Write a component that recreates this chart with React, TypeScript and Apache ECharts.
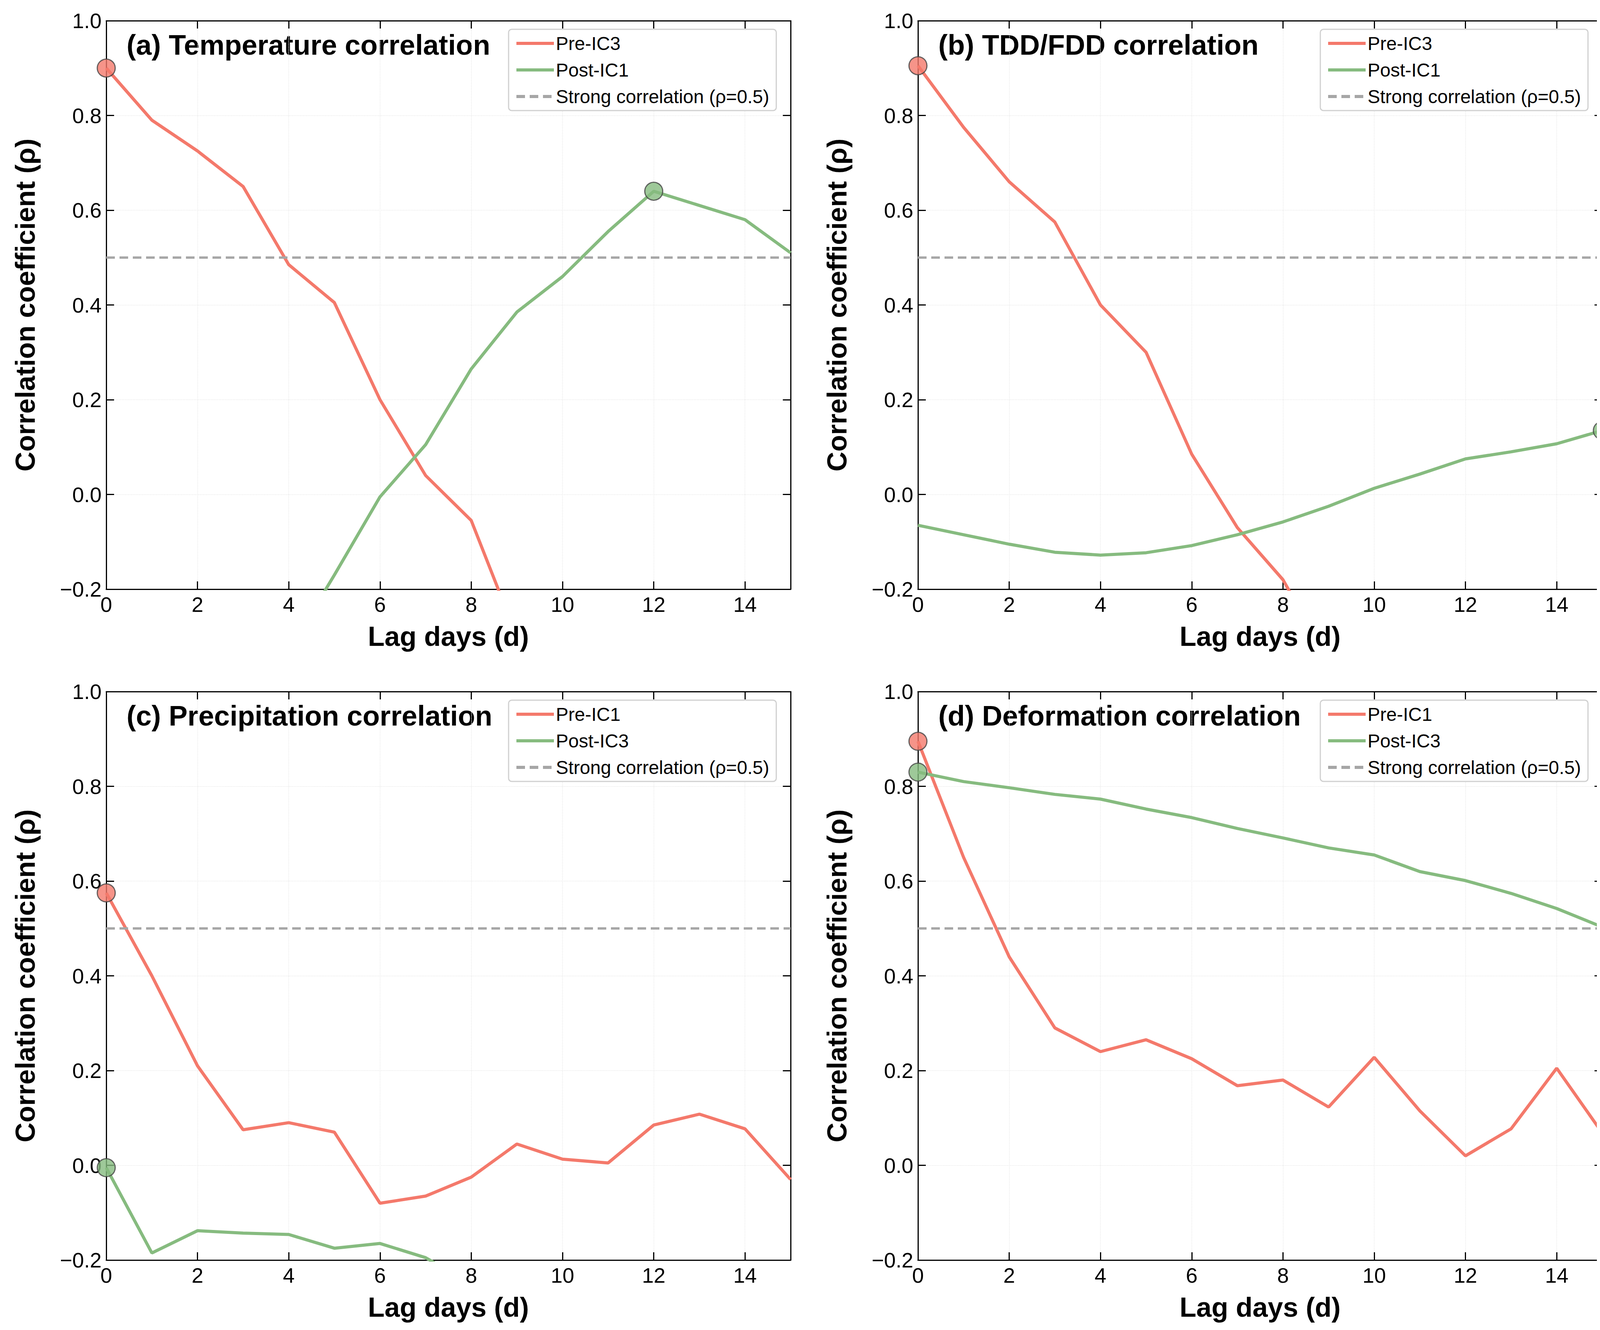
import { useEffect, useRef } from 'react';
import * as echarts from 'echarts';

const lags = [0, 1, 2, 3, 4, 5, 6, 7, 8, 9, 10, 11, 12, 13, 14, 15];

const titles = [
  '(a) Temperature correlation',
  '(b) TDD/FDD correlation',
  '(c) Precipitation correlation',
  '(d) Deformation correlation',
];
const preNames = ['Pre-IC3', 'Pre-IC3', 'Pre-IC1', 'Pre-IC1'];
const postNames = ['Post-IC1', 'Post-IC1', 'Post-IC3', 'Post-IC3'];
const strongName = 'Strong correlation (ρ=0.5)';
const strongLevel = 0.5;

const preValues = [
  [0.9, 0.79, 0.725, 0.65, 0.485, 0.405, 0.2, 0.04, -0.055, -0.3, -0.36, -0.4, -0.43, -0.46, -0.48, -0.5],
  [0.905, 0.775, 0.66, 0.575, 0.4, 0.3, 0.085, -0.07, -0.18, -0.35, -0.45, -0.5, -0.55, -0.58, -0.6, -0.62],
  [0.575, 0.4, 0.21, 0.075, 0.09, 0.07, -0.08, -0.065, -0.025, 0.045, 0.013, 0.005, 0.085, 0.108, 0.077, -0.03],
  [0.895, 0.65, 0.44, 0.29, 0.24, 0.265, 0.225, 0.168, 0.18, 0.123, 0.228, 0.115, 0.02, 0.077, 0.205, 0.068],
];
const postValues = [
  [-0.6, -0.58, -0.55, -0.45, -0.33, -0.17, -0.005, 0.105, 0.265, 0.385, 0.46, 0.555, 0.64, 0.61, 0.58, 0.51],
  [-0.065, -0.085, -0.105, -0.122, -0.128, -0.123, -0.108, -0.085, -0.058, -0.025, 0.013, 0.043, 0.075, 0.09, 0.107, 0.135],
  [-0.005, -0.185, -0.138, -0.143, -0.146, -0.175, -0.165, -0.195, -0.25, -0.28, -0.3, -0.3, -0.32, -0.33, -0.35, -0.36],
  [0.83, 0.81, 0.797, 0.783, 0.773, 0.752, 0.734, 0.711, 0.691, 0.67, 0.655, 0.62, 0.601, 0.574, 0.542, 0.503],
];

const RED = '#f4796b';
const GREEN = '#86bb7f';
const FONT = 'Liberation Sans';

// page has an 8px body margin
const gridPos = [
  { left: 264, top: 45 },
  { left: 2342, top: 45 },
  { left: 264, top: 1762 },
  { left: 2342, top: 1762 },
];
const GW = 1752;
const GH = 1455;

const maxIndex = (arr: number[]) => arr.reduce((bi, v, i) => (v > arr[bi] ? i : bi), 0);

export default function App() {
  const ref = useRef<HTMLDivElement>(null);

  useEffect(() => {
    if (!ref.current) return;
    const chart = echarts.init(ref.current, null, { renderer: 'svg' });

    const grid: any[] = [];
    const xAxis: any[] = [];
    const yAxis: any[] = [];
    const series: any[] = [];
    const legend: any[] = [];
    const graphic: any[] = [];

    gridPos.forEach((p, i) => {
      grid.push({ left: p.left, top: p.top, width: GW, height: GH, containLabel: false });
      const axisLine = { show: true, onZero: false, lineStyle: { color: '#000', width: 3 } };
      const axisTick = { show: true, inside: true, length: 20, lineStyle: { color: '#000', width: 3 } };
      const splitLine = { show: true, lineStyle: { color: '#ececec', type: 'dotted', width: 2 } };
      xAxis.push({
        type: 'value', gridIndex: i, min: 0, max: 15, interval: 2, position: 'bottom',
        axisLine, axisTick, splitLine,
        axisLabel: { fontFamily: FONT, fontSize: 54, color: '#000', margin: 12, showMaxLabel: false },
        name: 'Lag days (d)', nameLocation: 'middle', nameGap: 86,
        nameTextStyle: { fontFamily: FONT, fontSize: 70, fontWeight: 'bold', color: '#000' },
      });
      xAxis.push({
        type: 'value', gridIndex: i, min: 0, max: 15, interval: 2, position: 'top',
        axisLine, axisTick, splitLine: { show: false }, axisLabel: { show: false },
      });
      yAxis.push({
        type: 'value', gridIndex: i, min: -0.2, max: 1.0, interval: 0.2, position: 'left',
        axisLine, axisTick, splitLine,
        axisLabel: { fontFamily: FONT, fontSize: 54, color: '#000', margin: 12, formatter: (v: number) => (v < 0 ? '\u2212' + Math.abs(v).toFixed(1) : v.toFixed(1)) },
        name: 'Correlation coefficient (ρ)', nameLocation: 'middle', nameGap: 172,
        nameTextStyle: { fontFamily: FONT, fontSize: 70, fontWeight: 'bold', color: '#000' },
      });
      yAxis.push({
        type: 'value', gridIndex: i, min: -0.2, max: 1.0, interval: 0.2, position: 'right',
        axisLine, axisTick, splitLine: { show: false }, axisLabel: { show: false },
      });

      const xi = i * 2;
      const yi = i * 2;
      const pre = preValues[i].map((v, k) => [lags[k], v]);
      const post = postValues[i].map((v, k) => [lags[k], v]);
      series.push({
        type: 'line', name: preNames[i], xAxisIndex: xi, yAxisIndex: yi, data: pre,
        symbol: 'none', lineStyle: { color: RED, width: 8 }, itemStyle: { color: RED },
      });
      series.push({
        type: 'line', name: postNames[i], xAxisIndex: xi, yAxisIndex: yi, data: post,
        symbol: 'none', lineStyle: { color: GREEN, width: 8 }, itemStyle: { color: GREEN },
      });
      series.push({
        type: 'line', name: strongName, xAxisIndex: xi, yAxisIndex: yi,
        data: [[0, strongLevel], [15, strongLevel]], symbol: 'none',
        lineStyle: { color: '#a6a6a6', width: 6, type: [22, 12] }, itemStyle: { color: '#a6a6a6' },
      });
      const pm = maxIndex(preValues[i]);
      const qm = maxIndex(postValues[i]);
      series.push({
        type: 'scatter', name: 'peak-pre-' + i, xAxisIndex: xi, yAxisIndex: yi, clip: false,
        data: [[lags[pm], preValues[i][pm]]], symbolSize: 46,
        itemStyle: { color: RED, borderColor: '#444', borderWidth: 3 }, z: 5,
      });
      series.push({
        type: 'scatter', name: 'peak-post-' + i, xAxisIndex: xi, yAxisIndex: yi, clip: false,
        data: [[lags[qm], postValues[i][qm]]], symbolSize: 46,
        itemStyle: { color: GREEN, borderColor: '#444', borderWidth: 3 }, z: 5,
      });

      legend.push({
        data: [preNames[i], postNames[i], strongName],
        orient: 'vertical', left: p.left + 1030, top: p.top + 22,
        backgroundColor: '#fff', borderColor: '#d0d0d0', borderWidth: 3, borderRadius: 8,
        padding: [12, 18, 12, 16], itemGap: 20, itemWidth: 96, itemHeight: 30,
        itemStyle: { opacity: 0 },
        lineStyle: { width: 8 },
        textStyle: { fontFamily: FONT, fontSize: 48, color: '#000' },
        selectedMode: false,
      });
      graphic.push({
        type: 'text', left: p.left + 52, top: p.top + 26,
        style: { text: titles[i], fontFamily: FONT, fontSize: 72, fontWeight: 'bold', fill: '#000' },
      });
    });

    chart.setOption({
      animation: false,
      backgroundColor: '#fff',
      grid, xAxis, yAxis, series, legend, graphic,
    });
    return () => chart.dispose();
  }, []);

  return <div ref={ref} style={{ width: 4112, height: 3388 }} />;
}
